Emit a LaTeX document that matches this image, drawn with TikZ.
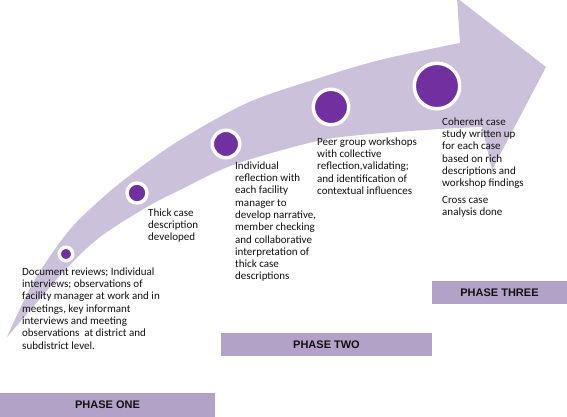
\documentclass[tikz,border=0pt]{standalone}
\usepackage{fontspec}
\setmainfont{Carlito}
\newfontfamily\phasefont{Liberation Sans}
\definecolor{arrowcol}{HTML}{CCC1DA}
\definecolor{phasecol}{HTML}{B3A2C7}
\definecolor{dotcol}{HTML}{7030A0}
\definecolor{textcol}{HTML}{111111}
\newcommand{\firstline}{\rule{0pt}{9pt}}
\begin{document}
\begin{tikzpicture}[x=1pt,y=-1pt,
  txt/.style={anchor=north west, inner sep=0pt, align=left, font=\fontsize{11}{12.3}\selectfont, text=textcol},
  phase/.style={fill=phasecol, inner sep=0pt, font=\phasefont\bfseries\fontsize{11}{13}\selectfont, text=textcol},
  dot/.style={circle, fill=dotcol, draw=white, line width=3.5pt, inner sep=0pt}]
\useasboundingbox (0,0) rectangle (567,417);
\fill[white] (0,0) rectangle (567,417);
% big curved arrow
\fill[arrowcol] plot[smooth, tension=0.55] coordinates {(7,337) (33,283) (67,233) (100,200) (133,173) (180,140) (247,103) (313,80) (380,60) (460,43)}
  -- (457,-2) -- (546,67) -- (492,170) -- (482,127)
  -- plot[smooth, tension=0.55] coordinates {(482,127) (440,129) (360,135) (313,142) (233,165) (180,190) (147,207) (100,237) (67,268) (33,307) (7,337)} -- cycle;
% milestones
\node[dot, minimum size=13.5pt] (c1) at (66,254) {};
\node[dot, minimum size=20pt] (c2) at (137,193) {};
\node[dot, minimum size=27.5pt] (c3) at (226,144) {};
\node[dot, minimum size=35.5pt] (c4) at (331,107) {};
\node[dot, minimum size=45.5pt] (c5) at (437,86) {};
% texts (top = first baseline - 9pt)
\node[txt] (t1) at (22,266) {\firstline Document reviews; Individual\\interviews; observations of\\facility manager at work and in\\meetings, key informant\\interviews and meeting\\observations\ \ at district and\\subdistrict level.};
\node[txt] (t2) at (148,207) {\firstline Thick case\\description\\developed};
\node[txt] (t3) at (235,160) {\firstline Individual\\reflection with\\each facility\\manager to\\develop narrative,\\member checking\\and collaborative\\interpretation of\\thick case\\descriptions};
\node[txt] (t4) at (317,136) {\firstline Peer group workshops\\with collective\\reflection,validating;\\and identification of\\contextual influences};
\node[txt] (t5) at (442,116) {\firstline Coherent case\\study written up\\for each case\\based on rich\\descriptions and\\workshop findings\\[4.2pt]Cross case\\analysis done};
% phase bars
\node[phase, minimum width=215pt, minimum height=24pt] (p1) at (107.5,405) {PHASE ONE};
\node[phase, minimum width=211pt, minimum height=23pt] (p2) at (326.5,344.5) {PHASE TWO};
\node[phase, minimum width=135pt, minimum height=23pt] (p3) at (499.5,292.5) {PHASE THREE};
\end{tikzpicture}
\end{document}
